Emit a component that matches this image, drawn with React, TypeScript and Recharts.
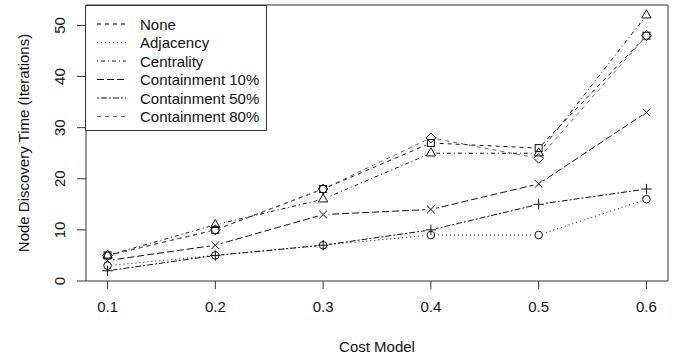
import React from 'react';
import { LineChart, Line, XAxis, YAxis, ReferenceArea, Legend } from 'recharts';

if (typeof document !== 'undefined') {
  document.body.style.margin = '0';
}

const FONT = '"Liberation Sans", Arial, Helvetica, sans-serif';

const costModels = [0.1, 0.2, 0.3, 0.4, 0.5, 0.6];
const xTicks = [0.1, 0.2, 0.3, 0.4, 0.5, 0.6];
const yTicks = [0, 10, 20, 30, 40, 50];

const noneVals = [5, 10, 18, 27, 26, 48];
const adjacencyVals = [3, 5, 7, 9, 9, 16];
const centralityVals = [5, 11, 16, 25, 25, 52];
const contain10Vals = [4, 7, 13, 14, 19, 33];
const contain50Vals = [2, 5, 7, 10, 15, 18];
const contain80Vals = [5, 10, 18, 28, 24, 48];

const seriesNames = ['None', 'Adjacency', 'Centrality', 'Containment 10%', 'Containment 50%', 'Containment 80%'];
const seriesKeys = ['none', 'adjacency', 'centrality', 'c10', 'c50', 'c80'];
const seriesValues = [noneVals, adjacencyVals, centralityVals, contain10Vals, contain50Vals, contain80Vals];

const data = costModels.map((x, i) => {
  const row: Record<string, number> = { x };
  seriesKeys.forEach((k, s) => {
    row[k] = seriesValues[s][i];
  });
  return row;
});

type Shape = 'square' | 'circle' | 'triangle' | 'plus' | 'cross' | 'diamond';

const styles: { dash: string; color: string; shape: Shape }[] = [
  { dash: '4 4', color: '#111', shape: 'square' },
  { dash: '1 3', color: '#111', shape: 'circle' },
  { dash: '1 3 4 3', color: '#111', shape: 'triangle' },
  { dash: '7 3', color: '#111', shape: 'cross' },
  { dash: '2 2 6 2', color: '#111', shape: 'plus' },
  { dash: '4 4', color: '#666', shape: 'diamond' },
];

const MK = '#111';

function markerEl(shape: Shape, cx: number, cy: number, key: string) {
  const common = { fill: 'none', stroke: MK, strokeWidth: 1 };
  switch (shape) {
    case 'square':
      return <rect key={key} x={cx - 3.5} y={cy - 3.5} width={7} height={7} {...common} />;
    case 'circle':
      return <circle key={key} cx={cx} cy={cy} r={3.8} {...common} />;
    case 'triangle': {
      const r = 5.4;
      const pts = `${cx},${cy - r} ${cx + r * 0.866},${cy + r * 0.5} ${cx - r * 0.866},${cy + r * 0.5}`;
      return <polygon key={key} points={pts} {...common} />;
    }
    case 'plus':
      return (
        <g key={key} {...common}>
          <line x1={cx - 5.2} y1={cy} x2={cx + 5.2} y2={cy} />
          <line x1={cx} y1={cy - 5.2} x2={cx} y2={cy + 5.2} />
        </g>
      );
    case 'cross':
      return (
        <g key={key} {...common}>
          <line x1={cx - 3.8} y1={cy - 3.8} x2={cx + 3.8} y2={cy + 3.8} />
          <line x1={cx - 3.8} y1={cy + 3.8} x2={cx + 3.8} y2={cy - 3.8} />
        </g>
      );
    case 'diamond': {
      const r = 4.9;
      const pts = `${cx},${cy - r} ${cx + r},${cy} ${cx},${cy + r} ${cx - r},${cy}`;
      return <polygon key={key} points={pts} {...common} />;
    }
  }
  return <g key={key} />;
}

const makeMarkerDot = (shape: Shape, name: string) => (props: any) => {
  const { cx, cy, index } = props;
  if (cx == null || cy == null) return <g key={`${name}-m-${index}`} />;
  return markerEl(shape, cx, cy, `${name}-m-${index}`);
};

const makeGapDot = (name: string) => (props: any) => {
  const { cx, cy, index } = props;
  if (cx == null || cy == null) return <g key={`${name}-g-${index}`} />;
  return <circle key={`${name}-g-${index}`} cx={cx} cy={cy} r={5.5} fill="#fff" stroke="none" />;
};

const XTick = (props: any) => {
  const { x, payload } = props;
  return (
    <text x={x} y={312} textAnchor="middle" fontSize={15} fontFamily={FONT} fill="#111">
      {Number(payload.value).toFixed(1)}
    </text>
  );
};

const YTick = (props: any) => {
  const { y, payload } = props;
  const bx = 65;
  return (
    <text
      x={bx}
      y={y}
      transform={`rotate(-90, ${bx}, ${y})`}
      textAnchor="middle"
      fontSize={15}
      fontFamily={FONT}
      fill="#111"
    >
      {payload.value}
    </text>
  );
};

const renderLegend = () => {
  const rowY = [19, 37.5, 56, 74.5, 93, 111.5];
  return (
    <svg width={183} height={127} style={{ display: 'block', overflow: 'visible' }}>
      <rect x={0.5} y={0.5} width={181} height={125} fill="#fff" stroke="#333" strokeWidth={1} />
      {seriesNames.map((name, i) => (
        <g key={name}>
          <line
            x1={12}
            y1={rowY[i]}
            x2={41}
            y2={rowY[i]}
            stroke={styles[i].color}
            strokeWidth={1}
            strokeDasharray={styles[i].dash}
          />
          <text x={55} y={rowY[i] + 5.5} fontSize={15} fontFamily={FONT} fill="#111">
            {name}
          </text>
        </g>
      ))}
    </svg>
  );
};

export default function App() {
  return (
    <div style={{ width: 676, height: 357, background: '#fff' }}>
      <LineChart width={676} height={357} data={data} margin={{ top: 5, right: 8, bottom: 0, left: 0 }}>
        <XAxis
          dataKey="x"
          type="number"
          domain={[0.08, 0.62]}
          ticks={xTicks}
          tick={<XTick />}
          tickSize={8}
          tickLine={{ stroke: '#333' }}
          axisLine={false}
          height={76}
          label={() => (
            <text x={377} y={352} textAnchor="middle" fontSize={15} fontFamily={FONT} fill="#111">
              Cost Model
            </text>
          )}
        />
        <YAxis
          type="number"
          domain={[0, 54]}
          ticks={yTicks}
          tick={<YTick />}
          tickSize={9}
          tickLine={{ stroke: '#333' }}
          axisLine={false}
          width={86}
          label={() => (
            <text
              x={28.5}
              y={143}
              transform="rotate(-90, 28.5, 143)"
              textAnchor="middle"
              fontSize={15}
              fontFamily={FONT}
              fill="#111"
            >
              Node Discovery Time (Iterations)
            </text>
          )}
        />
        <ReferenceArea x1={0.08} x2={0.62} y1={0} y2={54} fill="none" stroke="#333" strokeWidth={1} ifOverflow="visible" />
        {seriesKeys.map((k, i) => (
          <Line
            key={`line-${k}`}
            dataKey={k}
            name={seriesNames[i]}
            type="linear"
            stroke={styles[i].color}
            strokeWidth={1}
            strokeDasharray={styles[i].dash}
            dot={false}
            activeDot={false}
            isAnimationActive={false}
          />
        ))}
        {seriesKeys.map((k, i) => (
          <Line
            key={`gap-${k}`}
            dataKey={k}
            type="linear"
            stroke="none"
            legendType="none"
            dot={makeGapDot(k)}
            activeDot={false}
            isAnimationActive={false}
          />
        ))}
        {seriesKeys.map((k, i) => (
          <Line
            key={`mk-${k}`}
            dataKey={k}
            type="linear"
            stroke="none"
            legendType="none"
            dot={makeMarkerDot(styles[i].shape, k)}
            activeDot={false}
            isAnimationActive={false}
          />
        ))}
        <Legend
          content={renderLegend}
          layout="vertical"
          align="center"
          verticalAlign="middle"
          wrapperStyle={{ left: 85, top: 5, width: 183, height: 127 }}
        />
      </LineChart>
    </div>
  );
}
